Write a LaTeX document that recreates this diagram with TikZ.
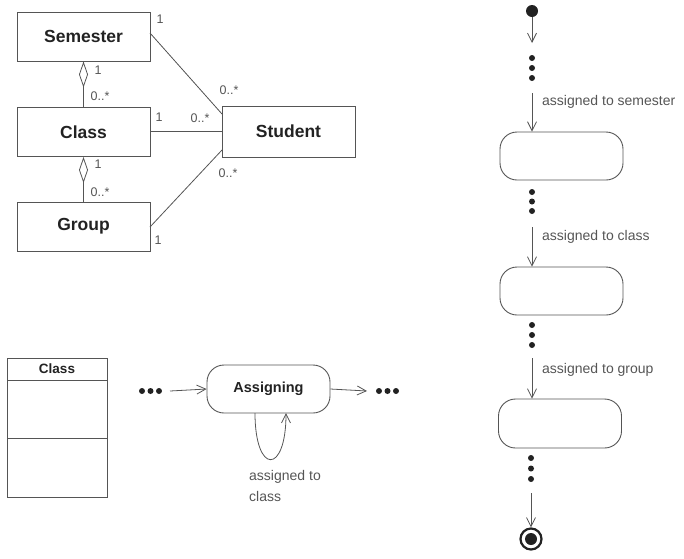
\documentclass[tikz,border=0pt]{standalone}
\usepackage{fontspec}
\setmainfont{Liberation Sans}
\usetikzlibrary{arrows.meta}
\definecolor{ink}{HTML}{222222}
\definecolor{ln}{HTML}{555555}
\begin{document}
\begin{tikzpicture}[x=1pt,y=-1pt,
  cls/.style={draw=ln,line width=0.9pt,minimum width=133pt,minimum height=49pt,inner sep=0pt,
    text=ink,font=\fontsize{17.5}{20}\selectfont\bfseries},
  st/.style={draw=ln,line width=0.9pt,rectangle,rounded corners=17pt,minimum width=123pt,minimum height=48pt,inner sep=0pt},
  mult/.style={text=ln,font=\fontsize{12.5}{14}\selectfont,inner sep=0pt},
  lbl/.style={text=ln,font=\fontsize{14}{16}\selectfont,inner sep=0pt},
  assoc/.style={draw=ln,line width=0.8pt},
  flow/.style={draw=ln,line width=0.8pt,-{Straight Barb[length=9pt,width=9pt,line width=0.8pt]}},
  agg/.style={draw=ln,line width=0.8pt,{Diamond[open,length=26pt,width=9pt,line width=0.8pt]}-},
  dot/.style={circle,fill=ink,inner sep=0pt,minimum size=6pt}
]
\useasboundingbox (0,0) rectangle (684,558);

% ---- class diagram ----
\node[cls] (sem) at (83.5,36.5) {Semester};
\node[cls] (cla) at (83.5,132) {Class};
\node[cls] (grp) at (83.5,226.5) {Group};
\node[cls,minimum width=133pt,minimum height=51pt] (stu) at (288.5,131.5) {Student};

\draw[agg] (sem.south) -- (cla.north);
\draw[agg] (cla.south) -- (grp.north);
\coordinate (s1) at (150,33);
\coordinate (s2) at (222,114);
\coordinate (c1) at (150,131);
\coordinate (c2) at (222,131);
\coordinate (g1) at (150,227);
\coordinate (g2) at (222,150);
\draw[assoc] (s1) -- (s2);
\draw[assoc] (c1) -- (c2);
\draw[assoc] (g1) -- (g2);

\node[mult] (m1) at (160,19) {1};
\node[mult] (m2) at (229,90) {0..*};
\node[mult] (m3) at (159,117) {1};
\node[mult] (m4) at (200,118) {0..*};
\node[mult] (m5) at (228,173) {0..*};
\node[mult] (m6) at (158,240) {1};
\node[mult] (m7) at (98,70) {1};
\node[mult] (m8) at (100,96) {0..*};
\node[mult] (m9) at (98,164) {1};
\node[mult] (m10) at (100,192) {0..*};

% ---- class box bottom-left ----
\draw[ln,line width=0.9pt] (7,358) rectangle (107,497);
\draw[ln,line width=0.9pt] (7,380) -- (107,380);
\draw[ln,line width=0.9pt] (7,438) -- (107,438);
\node[text=ink,font=\fontsize{13.5}{16}\selectfont\bfseries] (ch) at (57,369) {Class};

% ---- Assigning state ----
\node[st,minimum width=123pt,minimum height=48pt,text=ink,font=\fontsize{14.5}{16}\selectfont\bfseries] (asg) at (268.5,389) {Assigning};
\node[dot] (d1) at (142,391) {};
\node[dot] (d2) at (150.5,391) {};
\node[dot] (d3) at (159,391) {};
\node[dot] (d4) at (379,391) {};
\node[dot] (d5) at (387.5,391) {};
\node[dot] (d6) at (396,391) {};
\coordinate (ain) at (170,391);
\coordinate (aout) at (367,391);
\draw[flow] (ain) -- (asg.west);
\draw[flow] (asg.east) -- (aout);
\coordinate (lp1) at (255,413);
\coordinate (lp2) at (286,413);
\draw[flow] (lp1) .. controls (255,475) and (286,475) .. (lp2);
\node[lbl,anchor=west] (al1) at (249,477) {assigned to};
\node[lbl,anchor=west] (al2) at (249,496) {class};

% ---- activity chain ----
\node[circle,fill=ink,inner sep=0pt,minimum size=12pt] (ini) at (532,11) {};
\coordinate (e0) at (532,43);
\draw[flow] (ini) -- (e0);
\node[dot] (a1) at (532,58) {};
\node[dot] (a2) at (532,68) {};
\node[dot] (a3) at (532,78) {};
\coordinate (b0) at (532,93);
\node[st] (s1n) at (561.5,156) {};
\draw[flow] (b0) -- (s1n.north -| b0);
\node[lbl,anchor=west] (t1) at (542,102) {assigned to semester};

\node[dot] (a4) at (532,192) {};
\node[dot] (a5) at (532,201.5) {};
\node[dot] (a6) at (532,211) {};
\coordinate (b1) at (532,227);
\node[st] (s2n) at (561.5,291) {};
\draw[flow] (b1) -- (s2n.north -| b1);
\node[lbl,anchor=west] (t2) at (542,237) {assigned to class};

\node[dot] (a7) at (532,325) {};
\node[dot] (a8) at (532,335) {};
\node[dot] (a9) at (532,345) {};
\coordinate (b2) at (532,358);
\node[st,minimum height=49pt] (s3n) at (560,423.5) {};
\draw[flow] (b2) -- (s3n.north -| b2);
\node[lbl,anchor=west] (t3) at (542,370) {assigned to group};

\node[dot] (a10) at (531,458) {};
\node[dot] (a11) at (531,468.5) {};
\node[dot] (a12) at (531,479) {};
\coordinate (b3) at (531,493);
\node[circle,draw=ink,line width=2.2pt,inner sep=0pt,minimum size=21pt] (fin) at (531,539) {};
\node[circle,fill=ink,inner sep=0pt,minimum size=12pt] (finin) at (531,539) {};
\draw[flow] (b3) -- (fin.north);
\end{tikzpicture}
\end{document}
